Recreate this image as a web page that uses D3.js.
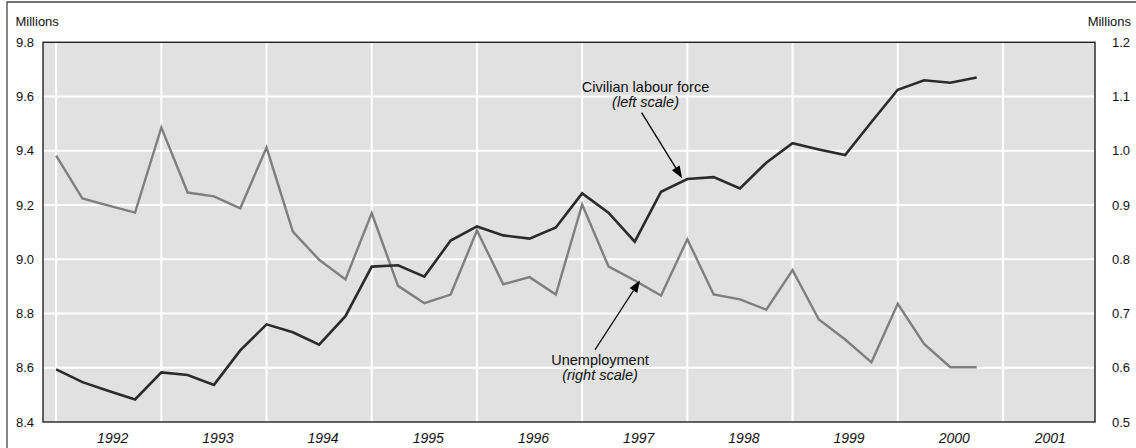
<!DOCTYPE html>
<html>
<head>
<meta charset="utf-8">
<script src="https://cdn.jsdelivr.net/npm/d3@7"></script>
<style>
  body { margin: 0; background: #fff; }
  svg  { display: block; font-family: "Liberation Sans", Arial, sans-serif; }
</style>
</head>
<body>
<div id="chart"></div>
<script>
/* ── Data (quarterly, millions) ─────────────────────────────────────── */
const labourForce = [8.594, 8.547, 8.514, 8.483, 8.583, 8.573, 8.537, 8.664, 8.760, 8.731,
                     8.685, 8.790, 8.973, 8.978, 8.936, 9.069, 9.121, 9.088, 9.076, 9.117,
                     9.243, 9.172, 9.065, 9.249, 9.296, 9.303, 9.261, 9.356, 9.428, 9.405,
                     9.384, 9.506, 9.625, 9.660, 9.651, 9.670];
const unemployment = [0.991, 0.912, 0.899, 0.886, 1.043, 0.923, 0.916, 0.894, 1.006, 0.851,
                      0.799, 0.763, 0.885, 0.751, 0.719, 0.735, 0.853, 0.754, 0.767, 0.735,
                      0.901, 0.787, 0.761, 0.733, 0.837, 0.735, 0.726, 0.707, 0.780, 0.689,
                      0.652, 0.610, 0.718, 0.644, 0.601, 0.601];

const years     = ['1992', '1993', '1994', '1995', '1996', '1997', '1998', '1999', '2000', '2001'];
const yearPos   = [2.15, 6.15, 10.15, 14.15, 18.15, 22.15, 26.15, 30.15, 34.15, 37.8];  // quarter index
const xGrid     = [0, 4, 8, 12, 16, 20, 24, 28, 32, 36];                                   // quarter index
const leftTicks  = [8.4, 8.6, 8.8, 9.0, 9.2, 9.4, 9.6, 9.8];
const rightTicks = [0.5, 0.6, 0.7, 0.8, 0.9, 1.0, 1.1, 1.2];

// annotation anchors, in data units (quarter index / series value)
const clfNote   = { lines: ['Civilian labour force', '(left scale)'], at: [22.41, 9.617],
                    from: [22.26, 9.541], to: [23.8, 9.299] };
const unempNote = { lines: ['Unemployment', '(right scale)'], at: [20.68, 0.6056],
                    from: [20.49, 0.6332], to: [22.2, 0.761] };

/* ── Chart ─────────────────────────────────────────────────────────── */
function drawChart() {
  const W = 1136, H = 448;
  const plot = { left: 43, right: 1095, top: 42.3, bottom: 422 };

  const svg = d3.select('#chart').append('svg')
    .attr('width', W).attr('height', H)
    .attr('viewBox', `0 0 ${W} ${H}`);

  const x  = d3.scaleLinear().domain([-0.5, 39.5]).range([plot.left, plot.right]);
  const yL = d3.scaleLinear().domain([8.4, 9.8]).range([plot.bottom, plot.top]);
  const yR = d3.scaleLinear().domain([0.5, 1.2]).range([plot.bottom, plot.top]);

  // outer frame (top + left only)
  svg.append('path')
    .attr('d', `M7,${H} V2 H${W}`)
    .attr('fill', 'none').attr('stroke', '#444').attr('stroke-width', 1.3);

  // plot background
  svg.append('rect')
    .attr('x', plot.left).attr('y', plot.top)
    .attr('width', plot.right - plot.left).attr('height', plot.bottom - plot.top)
    .attr('fill', '#e1e1e1');

  /* ── Grid ─────────────────────────────────────────────────────────── */
  svg.append('g').selectAll('line').data(leftTicks.slice(1, -1)).join('line')
    .attr('x1', plot.left).attr('x2', plot.right)
    .attr('y1', d => yL(d)).attr('y2', d => yL(d))
    .attr('stroke', '#fff').attr('stroke-width', 2);

  svg.append('g').selectAll('line').data(xGrid).join('line')
    .attr('x1', d => x(d)).attr('x2', d => x(d))
    .attr('y1', plot.top).attr('y2', plot.bottom)
    .attr('stroke', '#fff').attr('stroke-width', 2);

  /* ── Axes ─────────────────────────────────────────────────────────── */
  svg.append('g')
    .attr('transform', `translate(34,0)`)
    .call(d3.axisLeft(yL).tickValues(leftTicks).tickFormat(d3.format('.1f')).tickSize(0).tickPadding(0))
    .call(_styleAxis);

  svg.append('g')
    .attr('transform', `translate(1112,0)`)
    .call(d3.axisRight(yR).tickValues(rightTicks).tickFormat(d3.format('.1f')).tickSize(0).tickPadding(0))
    .call(_styleAxis);

  svg.append('g').selectAll('text').data(years).join('text')
    .attr('x', (d, i) => x(yearPos[i])).attr('y', 442.5)
    .attr('text-anchor', 'middle')
    .attr('font-size', 14).attr('font-style', 'italic').attr('fill', '#111')
    .text(d => d);

  svg.append('text').attr('x', 15.5).attr('y', 25.5)
    .attr('font-size', 13).attr('fill', '#111').text('Millions');
  svg.append('text').attr('x', 1131).attr('y', 25.5).attr('text-anchor', 'end')
    .attr('font-size', 13).attr('fill', '#111').text('Millions');

  /* ── Lines ────────────────────────────────────────────────────────── */
  _drawSeries(svg, unemployment, x, yR, '#7f7f7f', 2.4);
  _drawSeries(svg, labourForce,  x, yL, '#2b2b2b', 2.6);

  // plot frame
  svg.append('rect')
    .attr('x', plot.left).attr('y', plot.top)
    .attr('width', plot.right - plot.left).attr('height', plot.bottom - plot.top)
    .attr('fill', 'none').attr('stroke', '#222').attr('stroke-width', 1.4);

  /* ── Annotations ──────────────────────────────────────────────────── */
  _drawNote(svg, clfNote, x, yL);
  _drawNote(svg, unempNote, x, yR);
}

/* ── Private helpers ─────────────────────────────────────────────────── */

function _drawSeries(svg, values, x, y, color, width) {
  const line = d3.line().x((d, i) => x(i)).y(d => y(d));
  svg.append('path').datum(values)
    .attr('d', line)
    .attr('fill', 'none')
    .attr('stroke', color)
    .attr('stroke-width', width)
    .attr('stroke-linejoin', 'miter');
}

function _drawNote(svg, note, x, y) {
  const cx = x(note.at[0]), by = y(note.at[1]);
  note.lines.forEach((t, i) => {
    svg.append('text')
      .attr('x', cx).attr('y', by + i * 15)
      .attr('text-anchor', 'middle')
      .attr('font-size', 14.5)
      .attr('font-style', i === 1 ? 'italic' : 'normal')
      .attr('fill', '#111')
      .text(t);
  });

  const x1 = x(note.from[0]), y1 = y(note.from[1]);
  const x2 = x(note.to[0]),   y2 = y(note.to[1]);
  const ang = Math.atan2(y2 - y1, x2 - x1);
  const len = 12, half = 4.5;
  const bx = x2 - len * Math.cos(ang), by2 = y2 - len * Math.sin(ang);

  svg.append('line')
    .attr('x1', x1).attr('y1', y1).attr('x2', bx).attr('y2', by2)
    .attr('stroke', '#000').attr('stroke-width', 1.3);

  const pts = [
    [x2, y2],
    [bx + half * Math.sin(ang), by2 - half * Math.cos(ang)],
    [bx - half * Math.sin(ang), by2 + half * Math.cos(ang)]
  ];
  svg.append('polygon')
    .attr('points', pts.map(p => p.join(',')).join(' '))
    .attr('fill', '#000');
}

function _styleAxis(sel) {
  sel.select('.domain').remove();
  sel.selectAll('text').attr('fill', '#111').attr('font-size', '13px')
    .attr('font-family', '"Liberation Sans", Arial, sans-serif');
}

drawChart();
</script>
</body>
</html>
